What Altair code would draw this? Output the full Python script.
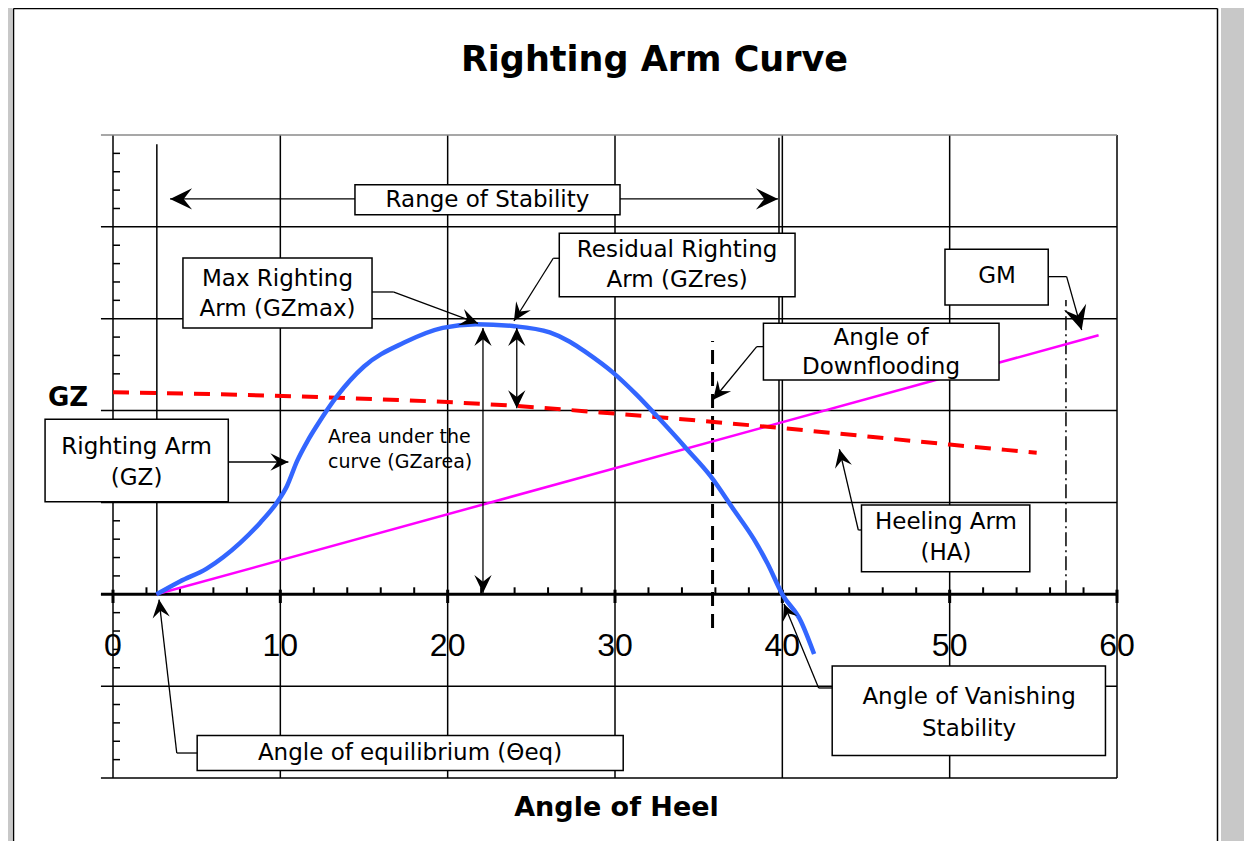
import altair as alt
import pandas as pd

# ---------------- data ----------------
# Righting arm (GZ) curve
gz_angle = [2.6, 4.0, 5.6, 7.6, 8.8, 9.8, 10.4, 11.0, 11.6, 12.2, 13.4, 15.0, 17.4, 19.7, 21.7,
            23.9, 26.1, 27.3, 28.3, 29.9, 31.3, 32.5, 34.3, 35.7, 37.1, 38.3, 39.1, 40.0, 41.1, 41.9]
gz_value = [0.0, 0.14, 0.28, 0.56, 0.78, 1.0, 1.18, 1.45, 1.66, 1.84, 2.16, 2.48, 2.74, 2.90, 2.94,
            2.92, 2.85, 2.75, 2.63, 2.41, 2.17, 1.94, 1.58, 1.29, 0.92, 0.60, 0.34, 0.0, -0.29, -0.65]
# Heeling arm (HA)
ha_angle = [0.0, 13.4, 24.1, 29.1, 39.9, 50.0, 55.2]
ha_value = [2.20, 2.14, 2.05, 1.98, 1.81, 1.63, 1.54]
# GM line
gm_angle = [2.6, 58.9]
gm_value = [0.0, 2.82]

x_tick_values = [0, 10, 20, 30, 40, 50, 60]
x_tick_labels = ["0", "10", "20", "30", "40", "50", "60"]

# key angles
theta_eq = 2.62
theta_vanish = 39.8
theta_flood = 35.83
theta_gm = 56.95
gzmax_angle = 22.11
gzres_angle = 24.13

# annotation boxes: x1, x2, y1, y2 (data units)
box_x1 = [14.46, 4.18, 26.67, 38.87, 49.72, -4.06, 44.73, 42.98, 5.03]
box_x2 = [30.30, 15.48, 40.76, 52.95, 55.89, 6.89, 54.79, 59.31, 30.49]
box_y1 = [4.458, 3.661, 3.930, 2.950, 3.756, 1.905, 0.972, -0.781, -1.536]
box_y2 = [4.131, 2.899, 3.240, 2.333, 3.149, 1.008, 0.246, -1.754, -1.917]

# annotation text lines
label_text = ["Range of Stability", "Max Righting", "Arm (GZmax)", "Residual Righting", "Arm (GZres)",
              "Angle of", "Downflooding", "GM", "Righting Arm", "(GZ)", "Heeling Arm", "(HA)",
              "Angle of Vanishing", "Stability", "Angle of equilibrium (\u0398eq)"]
label_x = [22.38, 9.83, 9.83, 33.71, 33.71, 45.9, 45.9, 52.83, 1.41, 1.41, 49.78, 49.78, 51.16, 51.16, 17.75]
label_y = [4.293, 3.429, 3.106, 3.748, 3.422, 2.787, 2.478, 3.465, 1.604, 1.266, 0.790, 0.446,
           -1.118, -1.466, -1.727]

area_text = ["Area under the", "curve (GZarea)"]
area_x = [12.85, 12.85]
area_y = [1.716, 1.444]

# leader / arrow shafts: x, y, x2, y2
lead_x = [15.48, 16.75, 26.67, 26.31, 38.87, 38.47, 55.89, 56.99, 6.89, 44.73, 44.54, 42.98, 42.17,
          5.03, 3.81, 3.41, 30.30, gzmax_angle, gzres_angle]
lead_y = [3.291, 3.291, 3.658, 3.658, 2.696, 2.696, 3.458, 3.458, 1.440, 0.700, 0.700, -1.020, -1.020,
          -1.728, -1.728, 4.304, 4.304, 0.014, 2.025]
lead_x2 = [16.75, 21.81, 26.31, 23.96, 38.47, 35.86, 56.99, 57.89, 10.48, 44.54, 43.41, 42.17, 40.10,
           3.81, 2.75, 14.46, 39.74, gzmax_angle, gzres_angle]
lead_y2 = [3.291, 2.95, 3.658, 2.975, 2.696, 2.118, 3.458, 2.877, 1.440, 0.700, 1.579, -1.020, -0.106,
           -1.728, -0.058, 4.304, 4.304, 2.899, 2.899]

# arrow heads: tip x, tip y, direction (deg clockwise from right), length px
arr_x = [3.41, 39.74, 21.81, gzmax_angle, gzmax_angle, gzres_angle, gzres_angle, 23.96, 35.86, 57.89,
         10.48, 43.41, 40.10, 2.75]
arr_y = [4.304, 4.304, 2.95, 2.899, 0.014, 2.899, 2.025, 2.975, 2.118, 2.877, 1.44, 1.579, -0.106, -0.058]
arr_dir = [180, 0, 20, 270, 90, 270, 90, 122, 129, 74, 0, 257, 248, 263]
arr_len = [22, 22, 18, 18, 18, 18, 18, 18, 18, 24, 18, 18, 16, 18]

# ---------------- chart ----------------
W, H = 1004, 643
XS = alt.Scale(domain=[0, 60], nice=False, zero=False)
YS = alt.Scale(domain=[-2, 5], nice=False, zero=False)


def X(f):
    return alt.X(f"{f}:Q", scale=XS, axis=None)


def Y(f):
    return alt.Y(f"{f}:Q", scale=YS, axis=None)


def segs(rows, **kw):
    df = pd.DataFrame(rows, columns=["x", "y", "x2", "y2"])
    return alt.Chart(df).mark_rule(**kw).encode(
        x=X("x"), y=Y("y"), x2=alt.X2("x2:Q"), y2=alt.Y2("y2:Q"))


# grid and frame of the plot
grid_rows = []
for a in [10, 20, 30, 40, 50]:
    grid_rows.append((a, -2, a, 5))
grid_rows.append((0, -2, 0, 5))
grid_rows.append((60, -2, 60, 5))
for v in range(-2, 5):
    grid_rows.append((-0.72, v, 60, v))
grid_rows.append((theta_eq, 0, theta_eq, 4.90))
grid_rows.append((theta_vanish, 0, theta_vanish, 4.97))
grid = segs(grid_rows, color="black", strokeWidth=1.5)
top_line = segs([(-0.72, 5, 60, 5)], color="#8a8a8a", strokeWidth=1.5)

minor_y = [(0, round(v / 5, 2), 0.42, round(v / 5, 2)) for v in range(-10, 25) if v % 5 != 0]
yticks = segs(minor_y, color="black", strokeWidth=1.5)

xaxis = segs([(-0.72, 0, 60, 0)], color="black", strokeWidth=3)
minor_x = [(a, 0, a, 0.076) for a in range(2, 60, 2) if a % 10 != 0]
xminor = segs(minor_x, color="black", strokeWidth=2)
major_x = [(a, -0.095, a, 0.05) for a in x_tick_values]
xmajor = segs(major_x, color="black", strokeWidth=3)

flood = segs([(theta_flood, -0.367, theta_flood, 2.758)], color="black", strokeWidth=3,
             strokeDash=[14, 8])
gmline = segs([(theta_gm, 0, theta_gm, 3.204)], color="black", strokeWidth=1.5,
              strokeDash=[14, 4, 2, 4])

# curves
gz_df = pd.DataFrame({"a": gz_angle, "v": gz_value})
gz_line = alt.Chart(gz_df).mark_line(color="#3366ff", strokeWidth=4.5, interpolate="monotone").encode(
    x=X("a"), y=Y("v"), order="a:Q")
ha_df = pd.DataFrame({"a": ha_angle, "v": ha_value})
ha_line = alt.Chart(ha_df).mark_line(color="#ff0000", strokeWidth=4, strokeDash=[16, 11],
                                     interpolate="monotone").encode(x=X("a"), y=Y("v"), order="a:Q")
gm_df = pd.DataFrame({"a": gm_angle, "v": gm_value})
gm_line = alt.Chart(gm_df).mark_line(color="#ff00ff", strokeWidth=2.5).encode(
    x=X("a"), y=Y("v"), order="a:Q")

# boxes
box_df = pd.DataFrame({"x": box_x1, "x2": box_x2, "y": box_y1, "y2": box_y2})
boxes = alt.Chart(box_df).mark_rect(fill="white", stroke="black", strokeWidth=1.5).encode(
    x=X("x"), x2="x2:Q", y=Y("y"), y2="y2:Q")

lab_df = pd.DataFrame({"t": label_text, "x": label_x, "y": label_y})
labels = alt.Chart(lab_df).mark_text(font="DejaVu Sans", fontSize=23, color="black",
                                     align="center", baseline="middle").encode(
    x=X("x"), y=Y("y"), text="t:N")

area_df = pd.DataFrame({"t": area_text, "x": area_x, "y": area_y})
area = alt.Chart(area_df).mark_text(font="DejaVu Sans", fontSize=19, color="black",
                                    align="left", baseline="middle").encode(
    x=X("x"), y=Y("y"), text="t:N")

leaders = segs(list(zip(lead_x, lead_y, lead_x2, lead_y2)), color="black", strokeWidth=1.3)

arrow_path = "M0,0 L-1,-0.48 L-0.62,0 L-1,0.48 Z"
arr_df = pd.DataFrame({"x": arr_x, "y": arr_y, "ang": arr_dir,
                       "s": [(2 * l) ** 2 for l in arr_len]})
arrows = alt.Chart(arr_df).mark_point(shape=arrow_path, filled=True, color="black", opacity=1,
                                      strokeWidth=0).encode(
    x=X("x"), y=Y("y"), angle=alt.Angle("ang:Q", scale=None), size=alt.Size("s:Q", scale=None))

tick_df = pd.DataFrame({"x": x_tick_values, "t": x_tick_labels, "y": [-0.563] * len(x_tick_values)})
tick_labels = alt.Chart(tick_df).mark_text(font="Liberation Sans Narrow, Liberation Sans", fontSize=32,
                                           color="black", align="center", baseline="middle").encode(
    x=X("x"), y=Y("y"), text="t:N")

title_df = pd.DataFrame({"t": ["Righting Arm Curve"], "x": [32.36], "y": [5.817]})
title = alt.Chart(title_df).mark_text(font="DejaVu Sans", fontWeight="bold", fontSize=35,
                                      color="black", align="center", baseline="middle").encode(
    x=X("x"), y=Y("y"), text="t:N")

xt_df = pd.DataFrame({"t": ["Angle of Heel"], "x": [30.09], "y": [-2.326]})
xtitle = alt.Chart(xt_df).mark_text(font="DejaVu Sans", fontWeight="bold", fontSize=27,
                                    color="black", align="center", baseline="middle").encode(
    x=X("x"), y=Y("y"), text="t:N")

gzl_df = pd.DataFrame({"t": ["GZ"], "x": [-2.69], "y": [2.139]})
gzlabel = alt.Chart(gzl_df).mark_text(font="DejaVu Sans", fontWeight="bold", fontSize=26,
                                      color="black", align="center", baseline="middle").encode(
    x=X("x"), y=Y("y"), text="t:N")

# window frame around the picture
one = pd.DataFrame({"k": [0]})
gray_l = alt.Chart(one).mark_rect(color="#c8c8c8").encode(
    x=alt.value(-105), x2=alt.value(-101), y=alt.value(-127), y2=alt.value(720))
gray_r = alt.Chart(one).mark_rect(color="#c8c8c8").encode(
    x=alt.value(1108), x2=alt.value(1131), y=alt.value(-127), y2=alt.value(720))
frame_l = alt.Chart(one).mark_rule(color="black", strokeWidth=1.5).encode(
    x=alt.value(-99.5), y=alt.value(-126.5), y2=alt.value(720))
frame_r = alt.Chart(one).mark_rule(color="black", strokeWidth=1.5).encode(
    x=alt.value(1104.5), y=alt.value(-126.5), y2=alt.value(720))
frame_t = alt.Chart(one).mark_rule(color="black", strokeWidth=1.5).encode(
    x=alt.value(-99.5), x2=alt.value(1104.5), y=alt.value(-126.5))

chart = alt.layer(
    gray_l, gray_r, frame_l, frame_r, frame_t,
    grid, top_line, yticks, xaxis, xminor, xmajor, flood, gmline,
    gm_line, ha_line, gz_line,
    tick_labels,
    boxes, labels, area, leaders, arrows,
    title, xtitle, gzlabel,
).properties(
    width=W, height=H,
    padding={"left": 105, "top": 127, "right": 127, "bottom": 63},
    autosize=alt.AutoSizeParams(type="none"),
    background="white",
).configure_view(stroke=None)

chart.save("out.html", embed_options={"renderer": "svg", "actions": False})
